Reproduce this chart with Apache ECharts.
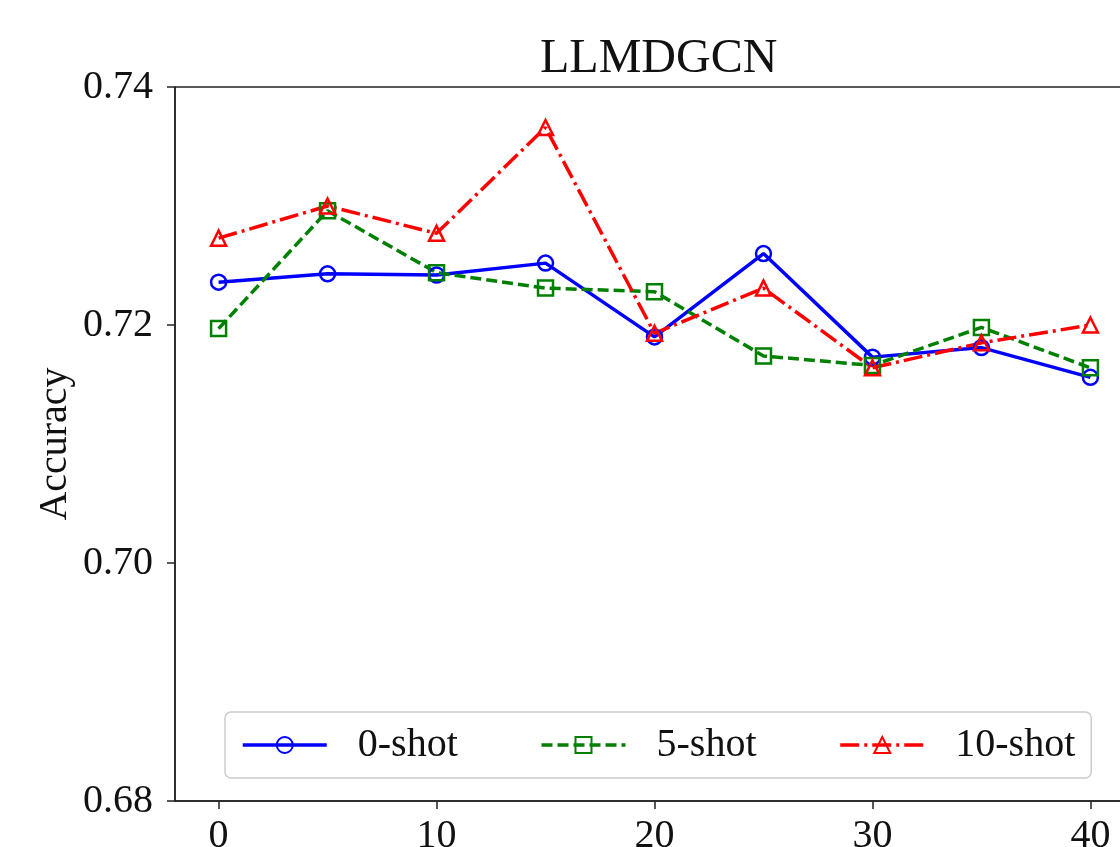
<!DOCTYPE html>
<html>
<head>
<meta charset="utf-8">
<script src="https://cdn.jsdelivr.net/npm/echarts@6/dist/echarts.min.js"></script>
<style>
html, body { margin: 0; padding: 0; overflow: hidden; background: #fff; }
#llmdgcnChart { width: 1140px; height: 847px; }
</style>
</head>
<body>
<div id="llmdgcnChart"></div>
<script>
// shots on x, accuracy on y
const xValues = [0, 5, 10, 15, 20, 25, 30, 35, 40]
const zeroShot = [0.7236, 0.7243, 0.7242, 0.7252, 0.7190, 0.7260, 0.7173, 0.7181, 0.7156]
const fiveShot = [0.7197, 0.7296, 0.7244, 0.7231, 0.7228, 0.7174, 0.7166, 0.7198, 0.7164]
const tenShot = [0.7273, 0.7300, 0.7277, 0.7366, 0.7193, 0.7231, 0.7164, 0.7185, 0.7200]
const xTicks = [0, 10, 20, 30, 40]
const seriesNames = ['0-shot', '5-shot', '10-shot']

const font = '"Liberation Serif", "Times New Roman", serif'
const pairs = (ys) => xValues.map((x, i) => [x, ys[i]])

const makeSeries = (name, ys, color, symbol, lineType) => ({
  name: name,
  type: 'line',
  data: pairs(ys),
  symbol: symbol,
  symbolSize: 15,
  showSymbol: true,
  lineStyle: { color: color, width: 3.5, type: lineType },
  itemStyle: { color: 'rgba(0,0,0,0)', borderColor: color, borderWidth: 2.5 },
  emphasis: { disabled: true },
  z: 3,
})

const option = {
  animation: false,
  backgroundColor: '#fff',
  title: {
    text: 'LLMDGCN',
    left: 535,
    top: 30,
    textStyle: { fontFamily: font, fontSize: 48, fontWeight: 'normal', color: '#111' },
  },
  grid: {
    left: 175,
    top: 87,
    right: 6,
    bottom: 46,
    outerBoundsMode: 'none',
    containLabel: false,
    show: true,
    borderColor: '#222',
    borderWidth: 1.5,
    backgroundColor: 'transparent',
  },
  legend: {
    data: seriesNames,
    left: 225,
    top: 712,
    orient: 'horizontal',
    itemWidth: 84,
    itemHeight: 20,
    itemGap: 82,
    padding: [13, 16, 13, 16],
    backgroundColor: '#fff',
    borderColor: '#cccccc',
    borderWidth: 1.5,
    borderRadius: 6,
    lineStyle: { width: 3.5 },
    textStyle: { fontFamily: font, fontSize: 40, color: '#111', padding: [0, 0, 0, 26] },
  },
  xAxis: {
    type: 'value',
    min: -2,
    max: 42,
    axisLine: { show: true, onZero: false, lineStyle: { color: '#222', width: 1.5 } },
    axisTick: { show: true, customValues: xTicks, length: 8, lineStyle: { color: '#222', width: 1.5 } },
    axisLabel: { customValues: xTicks, margin: 15, fontFamily: font, fontSize: 40, color: '#111' },
    splitLine: { show: false },
  },
  yAxis: {
    type: 'value',
    min: 0.68,
    max: 0.74,
    interval: 0.02,
    name: 'Accuracy',
    nameLocation: 'middle',
    nameGap: 100,
    nameMoveOverlap: false,
    nameTextStyle: { fontFamily: font, fontSize: 40, color: '#111' },
    axisLine: { show: true, onZero: false, lineStyle: { color: '#222', width: 1.5 } },
    axisTick: { show: true, length: 8, lineStyle: { color: '#222', width: 1.5 } },
    axisLabel: {
      margin: 22,
      fontFamily: font,
      fontSize: 40,
      color: '#111',
      formatter: (v) => v.toFixed(2),
    },
    splitLine: { show: false },
  },
  series: [
    makeSeries(seriesNames[0], zeroShot, '#0000ff', 'circle', 'solid'),
    makeSeries(seriesNames[1], fiveShot, '#008000', 'rect', [11, 5]),
    makeSeries(seriesNames[2], tenShot, '#ff0000', 'triangle', [19, 5, 3, 5]),
  ],
}

const chart = echarts.init(document.getElementById('llmdgcnChart'))
chart.setOption(option)
window.onresize = function () {
  chart.resize()
}
</script>
</body>
</html>
